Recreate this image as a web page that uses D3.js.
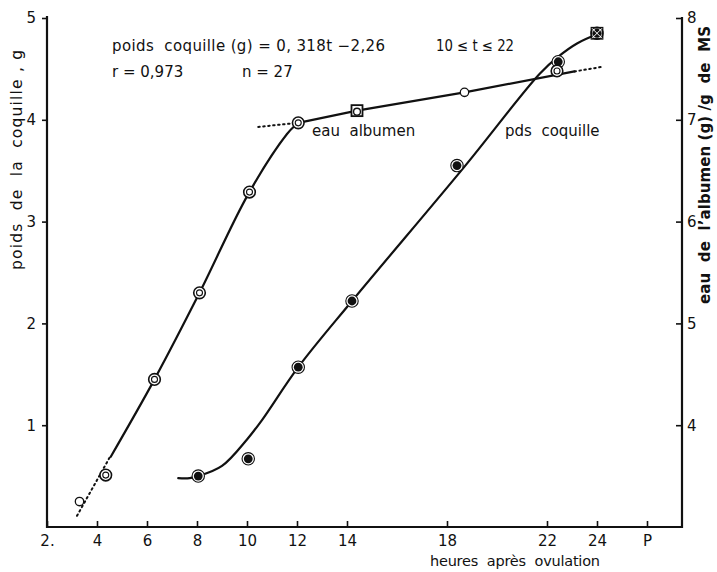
<!DOCTYPE html>
<html>
<head>
<meta charset="utf-8">
<script src="https://cdn.jsdelivr.net/npm/d3@7"></script>
<style>
  body { margin: 0; background: #fff; }
  svg text { font-family: "DejaVu Sans", sans-serif; fill: #111; }
</style>
</head>
<body>
<div id="chart"></div>
<script>
////////// data //////////
var xTicks      = [2, 4, 6, 8, 10, 12, 14, 18, 22, 24, 26],
    xTickLabels = ["2.", "4", "6", "8", "10", "12", "14", "18", "22", "24", "P"],
    shellTicks  = [1, 2, 3, 4, 5],
    waterTicks  = [4, 5, 6, 7, 8];

// eau albumen (right axis), double open circles
var waterHours  = [4.35, 6.3, 8.1, 10.1, 12.05, 22.4],
    waterValues = [3.51, 4.45, 5.30, 6.29, 6.97, 7.48];
// eau albumen, small open circles
var waterSmallHours  = [3.3, 18.7],
    waterSmallValues = [3.25, 7.27];
// eau albumen, squares
var waterSquareHours  = [14.4, 24],
    waterSquareValues = [7.09, 7.85];

// poids coquille (left axis), filled circles
var shellHours  = [8.05, 10.05, 12.05, 14.2, 18.4, 22.45, 24],
    shellValues = [0.50, 0.67, 1.57, 2.22, 3.55, 4.57, 4.85];

// hand drawn curves (vertices)
var waterLowHours  = [3.2, 4.5],
    waterLowValues = [3.11, 3.68];
var waterRiseHours  = [4.55, 6.3, 8.1, 10.05, 11.6, 11.95, 12.05],
    waterRiseValues = [3.69, 4.45, 5.30, 6.27, 6.86, 6.95, 6.97];
var waterFlatHours  = [12.05, 14.4, 18.7, 23.1],
    waterFlatValues = [6.97, 7.09, 7.27, 7.475];
var waterDotLeftHours  = [10.45, 12.0],
    waterDotLeftValues = [6.93, 6.97];
var waterDotRightHours  = [23.1, 24.2],
    waterDotRightValues = [7.475, 7.52];
var shellCurveHours  = [7.25, 7.7, 8.05, 9.0, 10.0, 10.6, 12.05, 14.2, 18.7, 21.7, 22.45, 23.2, 24.1],
    shellCurveValues = [0.48, 0.48, 0.50, 0.60, 0.86, 1.05, 1.57, 2.22, 3.54, 4.45, 4.62, 4.75, 4.85];

////////// layout //////////
var width   = 717,
    height  = 572,
    left    = 47,
    right   = 682,
    plotTop = 17;

var svg = d3.select("#chart").append("svg")
    .attr("width", width)
    .attr("height", height);

var x = d3.scaleLinear().domain([2, 27.4]).range([left, right]);
var yShell = d3.scaleLinear().domain([0, 5]).range([527, 18]);
var yWater = d3.scaleLinear().domain([3, 8]).range([527, 18]);

var base = yShell(0);

// ====================== axes ======================
var xAxis = svg.append("g")
    .attr("transform", "translate(0," + base + ")")
    .call(d3.axisBottom(x)
        .tickValues(xTicks)
        .tickSize(-6)
        .tickPadding(8)
        .tickFormat(function(d, i){ return xTickLabels[i]; }));

var yAxisL = svg.append("g")
    .attr("transform", "translate(" + left + ",0)")
    .call(d3.axisLeft(yShell)
        .tickValues(shellTicks)
        .tickSize(5)
        .tickPadding(6)
        .tickFormat(d3.format("d")));

var yAxisR = svg.append("g")
    .attr("transform", "translate(" + right + ",0)")
    .call(d3.axisRight(yWater)
        .tickValues(waterTicks)
        .tickSize(-6)
        .tickPadding(5)
        .tickFormat(d3.format("d")));

[xAxis, yAxisL, yAxisR].forEach(function(g){
    g.select(".domain").remove();
    g.selectAll(".tick line").attr("stroke", "#111").attr("stroke-width", 1.6);
    g.selectAll(".tick text")
        .attr("font-size", 15)
        .attr("font-family", "DejaVu Sans, sans-serif")
        .attr("fill", "#111");
});

// frame lines (left, bottom, right)
svg.append("path")
    .attr("d", "M" + left + "," + (plotTop - 1) + "V" + base + "H" + right + "V" + plotTop)
    .attr("fill", "none")
    .attr("stroke", "#111")
    .attr("stroke-width", 2.2);

// ====================== curves ======================
function pts(hours, values, yScale){
    return hours.map(function(h, i){ return [x(h), yScale(values[i])]; });
}

var smooth = d3.line().curve(d3.curveCatmullRom.alpha(0.5));
var straight = d3.line();

function drawCurve(points, gen, dotted){
    svg.append("path")
        .attr("d", gen(points))
        .attr("fill", "none")
        .attr("stroke", "#111")
        .attr("stroke-width", dotted ? 2 : 2.2)
        .attr("stroke-dasharray", dotted ? "1.5,3.5" : null)
        .attr("stroke-linecap", "round");
}

drawCurve(pts(waterLowHours, waterLowValues, yWater), straight, true);
drawCurve(pts(waterRiseHours, waterRiseValues, yWater), smooth, false);
drawCurve(pts(waterFlatHours, waterFlatValues, yWater), straight, false);
drawCurve(pts(waterDotLeftHours, waterDotLeftValues, yWater), straight, true);
drawCurve(pts(waterDotRightHours, waterDotRightValues, yWater), straight, true);
drawCurve(pts(shellCurveHours, shellCurveValues, yShell), smooth, false);

// ====================== markers ======================
var marks = svg.append("g");

// filled circles: black disc with a thin outer ring
pts(shellHours, shellValues, yShell).forEach(function(p){
    marks.append("circle").attr("cx", p[0]).attr("cy", p[1]).attr("r", 6.2)
        .attr("fill", "#fff").attr("stroke", "#111").attr("stroke-width", 1.1);
    marks.append("circle").attr("cx", p[0]).attr("cy", p[1]).attr("r", 4.4)
        .attr("fill", "#111");
});

// squares (drawn over 24h filled circle)
pts(waterSquareHours, waterSquareValues, yWater).forEach(function(p, i){
    marks.append("rect")
        .attr("x", p[0] - 5.5).attr("y", p[1] - 5.5)
        .attr("width", 11).attr("height", 11)
        .attr("fill", i == 0 ? "#fff" : "none")
        .attr("stroke", "#111").attr("stroke-width", 1.8);
    if(i == 0){
        marks.append("circle").attr("cx", p[0]).attr("cy", p[1] + 1).attr("r", 3.4)
            .attr("fill", "none").attr("stroke", "#111").attr("stroke-width", 1.3);
    } else {
        marks.append("path")
            .attr("d", "M" + (p[0]-5) + "," + (p[1]-5) + "L" + (p[0]+5) + "," + (p[1]+5) +
                       "M" + (p[0]+5) + "," + (p[1]-5) + "L" + (p[0]-5) + "," + (p[1]+5))
            .attr("stroke", "#fff").attr("stroke-width", 1);
    }
});

// double open circles
pts(waterHours, waterValues, yWater).forEach(function(p){
    marks.append("circle").attr("cx", p[0]).attr("cy", p[1]).attr("r", 5.8)
        .attr("fill", "#fff").attr("stroke", "#111").attr("stroke-width", 1.6);
    marks.append("circle").attr("cx", p[0]).attr("cy", p[1]).attr("r", 3)
        .attr("fill", "none").attr("stroke", "#111").attr("stroke-width", 1.1);
});

// small open circles
pts(waterSmallHours, waterSmallValues, yWater).forEach(function(p){
    marks.append("circle").attr("cx", p[0]).attr("cy", p[1]).attr("r", 4.2)
        .attr("fill", "#fff").attr("stroke", "#111").attr("stroke-width", 1.3);
});

// ====================== texts ======================
function label(txt, px, py, size, len, adjust){
    var t = svg.append("text")
        .attr("x", px).attr("y", py)
        .attr("font-size", size)
        .attr("xml:space", "preserve")
        .text(txt);
    if(len){
        t.attr("textLength", len).attr("lengthAdjust", adjust || "spacing");
    }
    return t;
}

label("poids  coquille (g) = 0, 318t \u22122,26", 112, 51, 15, 273);
label("10 \u2264 t \u2264 22", 436, 51, 15, 78, "spacingAndGlyphs");
label("r = 0,973", 112, 77, 15);
label("n = 27", 242, 77, 15);
label("eau  albumen", 312, 136, 15);
label("pds  coquille", 505, 136, 15);
label("heures  apr\u00e8s  ovulation", 430, 566, 14.5, 170);

svg.append("text")
    .attr("transform", "translate(22,160) rotate(-90)")
    .attr("text-anchor", "middle")
    .attr("font-size", 15.5)
    .attr("xml:space", "preserve")
    .attr("textLength", 220)
    .attr("lengthAdjust", "spacing")
    .text("poids  de  la  coquille , g");

svg.append("text")
    .attr("transform", "translate(710,165) rotate(-90)")
    .attr("text-anchor", "middle")
    .attr("font-size", 15)
    .attr("font-weight", "bold")
    .attr("xml:space", "preserve")
    .attr("textLength", 278)
    .attr("lengthAdjust", "spacing")
    .text("eau  de  l\u2019albumen (g) /g  de  MS");
</script>
</body>
</html>
